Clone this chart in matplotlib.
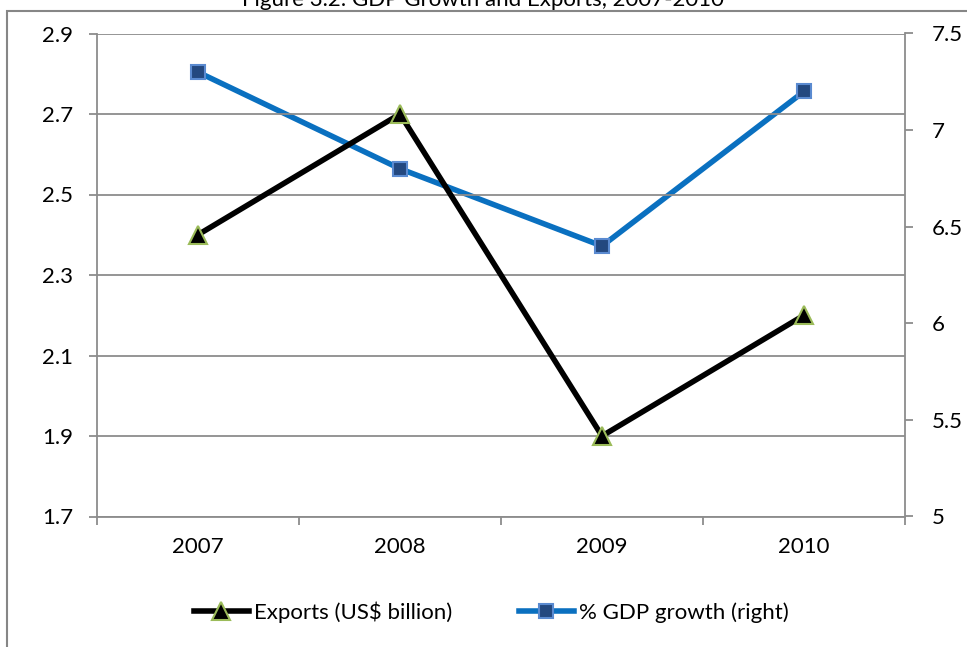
import matplotlib
matplotlib.use("Agg")
import matplotlib.pyplot as plt
from matplotlib.patches import Rectangle

plt.rcParams['font.family'] = ['Lato', 'DejaVu Sans']

years = ["2007", "2008", "2009", "2010"]
exports = [2.4, 2.7, 1.9, 2.2]          # US$ billion, left axis
gdp_growth = [7.3, 6.8, 6.4, 7.2]       # % growth, right axis
left_ticks = [1.7, 1.9, 2.1, 2.3, 2.5, 2.7, 2.9]
right_ticks = [5, 5.5, 6, 6.5, 7, 7.5]
title = "Figure 3.2: GDP Growth and Exports, 2007-2010"

W, H = 967, 647
fig = plt.figure(figsize=(W / 100, H / 100), dpi=100)

# chart frame (left and top edges visible)
fig.patches.append(Rectangle((7 / W, -0.05), 1.2, 1 - 11 / H + 0.05,
                             transform=fig.transFigure, fill=False,
                             edgecolor="#868686", linewidth=1.5, zorder=0))

x0, x1 = 97, 905
y_top, y_bot = 33.5, 516.5
ax = fig.add_axes([x0 / W, 1 - y_bot / H, (x1 - x0) / W, (y_bot - y_top) / H])
ax2 = ax.twinx()

grid_c = "#8c8c8c"
fs = 16
xs = list(range(len(years)))

ax.set_xlim(-0.5, len(years) - 0.5)
ax.set_ylim(left_ticks[0], left_ticks[-1])
ax2.set_ylim(right_ticks[0], right_ticks[-1])

for y in left_ticks:
    ax.axhline(y, color=grid_c, linewidth=1.3, zorder=0)

ax.plot(xs, exports, color="black", linewidth=4, marker="^", markersize=13,
        markerfacecolor="black", markeredgecolor="#9bbb59", markeredgewidth=1.5,
        label="Exports (US$ billion)", zorder=3)
ax2.plot(xs, gdp_growth, color="#0a70c0", linewidth=4, marker="s", markersize=10,
         markerfacecolor="#23487f", markeredgecolor="#5a8ad0", markeredgewidth=1.5,
         label="% GDP growth (right)", zorder=3)

ax.set_yticks(left_ticks)
ax.set_yticklabels([f"{v:.1f}" for v in left_ticks])
ax2.set_yticks(right_ticks)
ax2.set_yticklabels([f"{v:g}" for v in right_ticks])

ax.set_xticks(xs)
ax.set_xticklabels(years)
ax.set_xticks([i - 0.5 for i in range(len(years) + 1)], minor=True)
ax.tick_params(axis="x", which="major", length=0, pad=15, labelsize=fs)
ax.tick_params(axis="x", which="minor", length=6, color=grid_c, width=1.3)
ax.tick_params(axis="y", length=6, color=grid_c, width=1.3, pad=11, labelsize=fs)
ax2.tick_params(axis="y", length=6, color=grid_c, width=1.3, pad=13, labelsize=fs)

for a in (ax, ax2):
    for s in a.spines.values():
        s.set_visible(False)
    a.patch.set_visible(False)
ax.spines["left"].set_visible(True)
ax.spines["left"].set_color(grid_c)
ax.spines["left"].set_linewidth(1.3)
ax.spines["bottom"].set_visible(True)
ax.spines["bottom"].set_color(grid_c)
ax.spines["bottom"].set_linewidth(1.3)
ax2.spines["right"].set_visible(True)
ax2.spines["right"].set_color(grid_c)
ax2.spines["right"].set_linewidth(1.3)

ax.set_zorder(ax2.get_zorder() + 1)

h1, l1 = ax.get_legend_handles_labels()
h2, l2 = ax2.get_legend_handles_labels()
fig.legend(h1 + h2, l1 + l2, loc="center", bbox_to_anchor=(491 / W, 1 - 612 / H),
           ncol=2, frameon=False, fontsize=fs, handlelength=2.5,
           handletextpad=0.2, columnspacing=3.0)

fig.text(483 / W, 1 - 6 / H, title, ha="center", va="baseline", fontsize=fs)

fig.savefig("out.png", dpi=100)
